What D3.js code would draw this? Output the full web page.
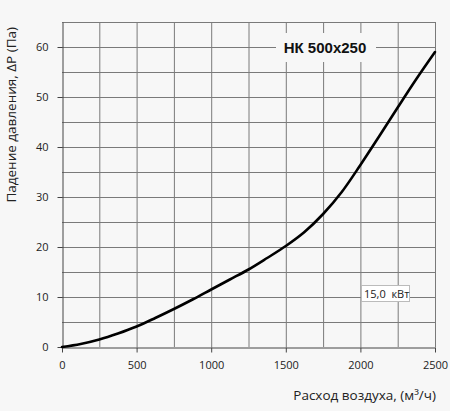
<!DOCTYPE html>
<html>
<head>
<meta charset="utf-8">
<script src="https://cdn.jsdelivr.net/npm/d3@7"></script>
<style>
  html, body { margin: 0; padding: 0; background: #f7f7f7; }
  svg { display: block; font-family: "Open Sans", sans-serif; }
</style>
</head>
<body>
<svg width="450" height="411"></svg>
<script>
// Расход воздуха (м3/ч) и падение давления (Па)
const flow = [0, 125, 250, 375, 500, 625, 750, 875, 1000, 1125, 1250, 1375, 1500, 1625, 1750, 1875, 2000, 2125, 2250, 2375, 2500];
const pressure = [0, 0.6, 1.5, 2.7, 4.1, 5.8, 7.6, 9.5, 11.5, 13.5, 15.5, 17.8, 20.2, 23.0, 26.6, 31.0, 36.4, 42.1, 47.9, 53.6, 59.0];
const xTicks = [0, 500, 1000, 1500, 2000, 2500];
const yTicks = [0, 10, 20, 30, 40, 50, 60];
const title = "НК 500x250";
const powerLabel = "15,0  кВт";

const svg = d3.select("svg");
const margin = { top: 22, left: 62, right: 15, bottom: 64 };
const width = 450 - margin.left - margin.right;
const height = 411 - margin.top - margin.bottom;

const x = d3.scaleLinear().domain([0, 2500]).range([margin.left, margin.left + width]);
const y = d3.scaleLinear().domain([0, 65]).range([margin.top + height, margin.top]);

// Сетка
const grid = svg.append("g").attr("stroke", "#7a7a7a").attr("stroke-width", 1);
grid.selectAll("line.v")
  .data(d3.range(250, 2501, 250))
  .enter().append("line")
  .attr("x1", d => x(d) + 0.5).attr("x2", d => x(d) + 0.5)
  .attr("y1", y(65)).attr("y2", y(0));
grid.selectAll("line.h")
  .data(d3.range(5, 66, 5))
  .enter().append("line")
  .attr("x1", x(0)).attr("x2", x(2500))
  .attr("y1", d => y(d) + 0.5).attr("y2", d => y(d) + 0.5);

// Оси
const xAxis = svg.append("g")
  .attr("transform", `translate(0, ${y(0) + 0.5})`)
  .call(d3.axisBottom(x).tickValues(xTicks).tickFormat(d3.format("d"))
    .tickSize(5).tickPadding(9).tickSizeOuter(0));
const yAxis = svg.append("g")
  .attr("transform", `translate(${x(0) + 0.5}, 0)`)
  .call(d3.axisLeft(y).tickValues(yTicks).tickFormat(d3.format("d"))
    .tickSize(5).tickPadding(9).tickSizeOuter(0));
[xAxis, yAxis].forEach(a => {
  a.select(".domain").attr("stroke", "#444");
  a.selectAll(".tick line").attr("stroke", "#444");
  a.selectAll("text").attr("fill", "#222").style("font-size", "11px").style("font-family", "Open Sans");
});

// Подпись модели
svg.append("rect")
  .attr("x", 276).attr("y", 33).attr("width", 100).attr("height", 29)
  .attr("fill", "#f7f7f7");
svg.append("text")
  .attr("x", 325).attr("y", 53)
  .attr("text-anchor", "middle")
  .style("font-family", "Liberation Sans, Arial, sans-serif")
  .style("font-weight", "bold")
  .style("font-size", "15px")
  .attr("fill", "#111")
  .text(title);

// Кривая
const line = d3.line()
  .x((d, i) => x(flow[i]))
  .y(d => y(d))
  .curve(d3.curveCatmullRom.alpha(0.5));
svg.append("path")
  .datum(pressure)
  .attr("fill", "none")
  .attr("stroke", "#000")
  .attr("stroke-width", 2.6)
  .attr("stroke-linecap", "round")
  .attr("d", line);

// Мощность
svg.append("rect")
  .attr("x", 361.5).attr("y", 285.5).attr("width", 48).attr("height", 16)
  .attr("fill", "#fff").attr("stroke", "#bbb");
svg.append("text")
  .attr("x", 364).attr("y", 298)
  .style("font-size", "11px")
  .style("white-space", "pre")
  .attr("fill", "#222")
  .text(powerLabel);

// Названия осей
svg.append("text")
  .attr("x", 436).attr("y", 400)
  .attr("text-anchor", "end")
  .style("font-size", "13.5px")
  .attr("fill", "#222")
  .text("Расход воздуха, (м³/ч)");
svg.append("text")
  .attr("transform", "translate(16, 27) rotate(-90)")
  .attr("text-anchor", "end")
  .style("font-size", "13.5px")
  .attr("fill", "#222")
  .text("Падение давления, ΔP (Па)");
</script>
</body>
</html>
